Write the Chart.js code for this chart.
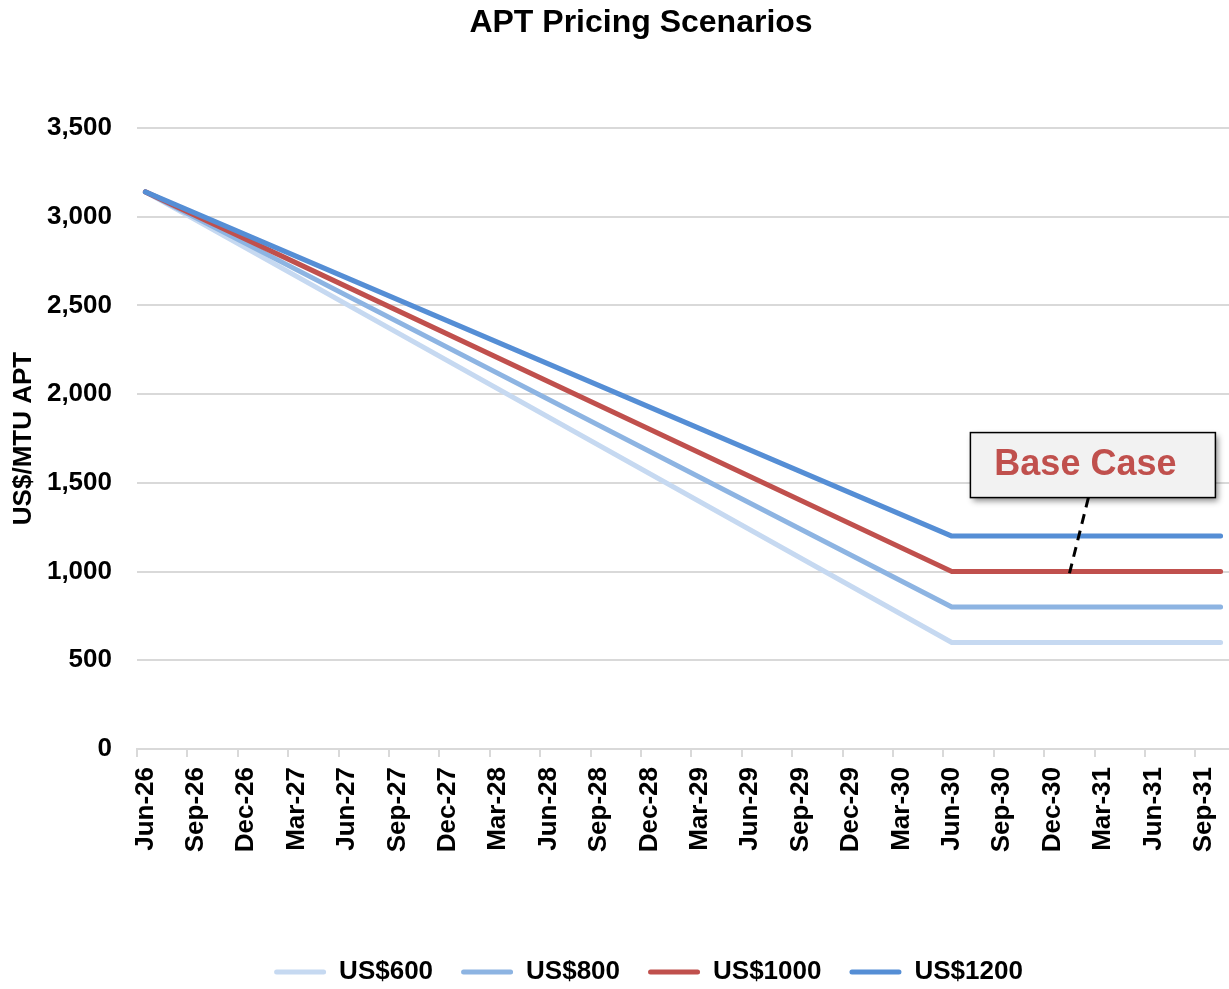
<!DOCTYPE html>
<html>
<head>
<meta charset="utf-8">
<script src="https://cdn.jsdelivr.net/npm/chart.js@4/dist/chart.umd.min.js"></script>
<style>
  html, body { margin: 0; padding: 0; background: #ffffff; }
  #wrap { width: 1229px; height: 989px; position: relative; }
</style>
</head>
<body>
<div id="wrap"><canvas id="c" width="1229" height="989"></canvas></div>
<script>
// ---- Data ----
const chartTitle = 'APT Pricing Scenarios';
const yAxisTitle = 'US$/MTU APT';
const months = [
  'Jun-26','Jul-26','Aug-26','Sep-26','Oct-26','Nov-26','Dec-26',
  'Jan-27','Feb-27','Mar-27','Apr-27','May-27','Jun-27','Jul-27','Aug-27','Sep-27','Oct-27','Nov-27','Dec-27',
  'Jan-28','Feb-28','Mar-28','Apr-28','May-28','Jun-28','Jul-28','Aug-28','Sep-28','Oct-28','Nov-28','Dec-28',
  'Jan-29','Feb-29','Mar-29','Apr-29','May-29','Jun-29','Jul-29','Aug-29','Sep-29','Oct-29','Nov-29','Dec-29',
  'Jan-30','Feb-30','Mar-30','Apr-30','May-30','Jun-30','Jul-30','Aug-30','Sep-30','Oct-30','Nov-30','Dec-30',
  'Jan-31','Feb-31','Mar-31','Apr-31','May-31','Jun-31','Jul-31','Aug-31','Sep-31','Oct-31'
];
const tickLabels = ['Jun-26','Sep-26','Dec-26','Mar-27','Jun-27','Sep-27','Dec-27','Mar-28','Jun-28','Sep-28','Dec-28',
  'Mar-29','Jun-29','Sep-29','Dec-29','Mar-30','Jun-30','Sep-30','Dec-30','Mar-31','Jun-31','Sep-31'];
const keyDates = ['Jun-26', 'Jun-30', 'Oct-31'];
const seriesNames = ['US$600', 'US$800', 'US$1000', 'US$1200'];
const us600  = [3140, 600, 600];
const us800  = [3140, 800, 800];
const us1000 = [3140, 1000, 1000];
const us1200 = [3140, 1200, 1200];
const seriesColors = ['#C6D9F1', '#8DB4E2', '#C0504D', '#558ED5'];
const baseCaseText = 'Base Case';
const baseCaseAt = 'Jan-31';
const baseCaseValue = 1000;

const FONT = '"Liberation Sans", Arial, sans-serif';

function toPoints(vals) { return keyDates.map((d, i) => ({ x: d, y: vals[i] })); }
const allSeries = [us600, us800, us1000, us1200];

const datasets = allSeries.map((vals, i) => ({
  label: seriesNames[i],
  data: toPoints(vals),
  borderColor: seriesColors[i],
  backgroundColor: seriesColors[i],
  borderWidth: 5,
  borderCapStyle: 'round',
  borderJoinStyle: 'round',
  pointRadius: 0,
  pointHoverRadius: 0,
  tension: 0,
  fill: false,
  order: allSeries.length - i
}));

const titlePlugin = {
  id: 'customTitle',
  afterDraw(chart) {
    const ctx = chart.ctx;
    ctx.save();
    ctx.font = 'bold 32px ' + FONT;
    ctx.fillStyle = '#000';
    ctx.textAlign = 'center';
    ctx.textBaseline = 'middle';
    ctx.fillText(chartTitle, 641, 23);
    ctx.restore();
  }
};

const legendShiftPlugin = {
  id: 'legendShift',
  afterLayout(chart) {
    if (chart.legend) {
      chart.legend.left += 34;
      chart.legend.right += 34;
    }
  }
};

const xTickMarks = {
  id: 'xTickMarks',
  afterDraw(chart) {
    const xs = chart.scales.x;
    const ctx = chart.ctx;
    const half = (xs.getPixelForValue(1) - xs.getPixelForValue(0)) / 2;
    const yb = chart.chartArea.bottom;
    ctx.save();
    ctx.strokeStyle = '#D9D9D9';
    ctx.lineWidth = 2;
    tickLabels.forEach(l => {
      const px = Math.round(xs.getPixelForValue(months.indexOf(l)) - half);
      ctx.beginPath();
      ctx.moveTo(px, yb);
      ctx.lineTo(px, yb + 8);
      ctx.stroke();
    });
    ctx.restore();
  }
};

const calloutPlugin = {
  id: 'callout',
  afterDatasetsDraw(chart) {
    const ctx = chart.ctx;
    const x = chart.scales.x.getPixelForValue(months.indexOf(baseCaseAt));
    const y = chart.scales.y.getPixelForValue(baseCaseValue);
    ctx.save();
    ctx.strokeStyle = '#000';
    ctx.lineWidth = 3;
    ctx.setLineDash([10, 7]);
    ctx.beginPath();
    ctx.moveTo(x + 19, y - 74);
    ctx.lineTo(x - 1, y + 6);
    ctx.stroke();
    ctx.setLineDash([]);
    const bx = x - 99, by = y - 139, bw = 245, bh = 65;
    ctx.shadowColor = 'rgba(0,0,0,0.45)';
    ctx.shadowBlur = 6;
    ctx.shadowOffsetX = 3;
    ctx.shadowOffsetY = 3;
    ctx.fillStyle = '#F2F2F2';
    ctx.fillRect(bx, by, bw, bh);
    ctx.shadowColor = 'transparent';
    ctx.lineWidth = 1.5;
    ctx.strokeStyle = '#000';
    ctx.strokeRect(bx, by, bw, bh);
    ctx.font = 'bold 36px ' + FONT;
    ctx.fillStyle = '#C0504D';
    ctx.textAlign = 'center';
    ctx.textBaseline = 'middle';
    ctx.fillText(baseCaseText, x + 16, y - 106);
    ctx.restore();
  }
};

new Chart(document.getElementById('c'), {
  type: 'line',
  data: { labels: months, datasets },
  options: {
    responsive: false,
    animation: false,
    events: [],
    layout: { padding: { top: 128, left: 0, right: 0, bottom: -6 } },
    plugins: {
      title: { display: false },
      tooltip: { enabled: false },
      legend: {
        position: 'bottom',
        labels: {
          font: { family: FONT, size: 26, weight: 'bold' },
          color: '#000',
          boxWidth: 52,
          boxHeight: 5,
          padding: 28,
          useBorderRadius: true,
          borderRadius: 2.5,
          generateLabels: chart => chart.data.datasets.map((d, i) => ({
            text: d.label,
            fillStyle: d.borderColor,
            strokeStyle: d.borderColor,
            lineWidth: 0,
            fontColor: '#000',
            datasetIndex: i,
            hidden: false,
            borderRadius: 2.5
          }))
        }
      }
    },
    scales: {
      x: {
        type: 'category',
        offset: true,
        afterFit: s => { s.height = 182; s.paddingRight = 0; s.paddingLeft = 0; },
        grid: {
          display: true,
          offset: true,
          drawOnChartArea: false,
          drawTicks: true,
          tickLength: 8,
          tickWidth: 2,
          tickColor: 'rgba(0,0,0,0)'
        },
        border: { display: true, color: '#D9D9D9', width: 2 },
        ticks: {
          autoSkip: false,
          minRotation: 90,
          maxRotation: 90,
          padding: 10,
          color: '#000',
          font: { family: FONT, size: 26, weight: 'bold' },
          callback: (v, i) => (tickLabels.indexOf(months[i]) >= 0 ? months[i] : null)
        }
      },
      y: {
        min: 0,
        max: 3500,
        afterFit: s => { s.width = 137; },
        grid: { color: '#D9D9D9', lineWidth: 2, drawTicks: false },
        border: { display: false },
        ticks: {
          stepSize: 500,
          padding: 25,
          color: '#000',
          font: { family: FONT, size: 26, weight: 'bold' }
        },
        title: {
          display: true,
          text: yAxisTitle,
          color: '#000',
          font: { family: FONT, size: 26, weight: 'bold' },
          padding: { top: 8, bottom: 0 }
        }
      }
    }
  },
  plugins: [titlePlugin, legendShiftPlugin, xTickMarks, calloutPlugin]
});
</script>
</body>
</html>
